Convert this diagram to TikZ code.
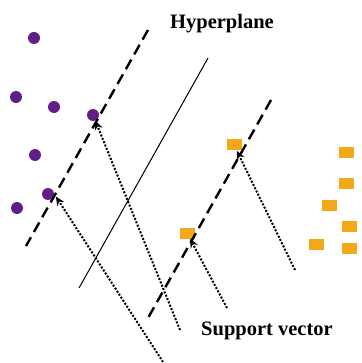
\documentclass[tikz,border=0pt]{standalone}
\usepackage{fontspec}
\setmainfont{Liberation Serif}
\usetikzlibrary{arrows.meta}
\definecolor{dotpurple}{RGB}{96,30,135}
\definecolor{boxorange}{RGB}{242,168,24}
\tikzstyle{classa} = [circle, fill=dotpurple, inner sep=0pt, minimum size=12pt]
\tikzstyle{classb} = [rectangle, fill=boxorange, inner sep=0pt, minimum width=15pt, minimum height=11pt]
\tikzstyle{margin} = [line width=2.4pt, dash pattern=on 11pt off 6pt]
\tikzstyle{arrow} = [line width=2pt, dash pattern=on 2pt off 1.6pt, ->,>={Stealth[length=9pt,width=8pt]}]
\tikzstyle{boldtext} = [font=\bfseries\fontsize{20.5}{24}\selectfont, inner sep=0pt]

\begin{document}
\begin{tikzpicture}[x=1pt, y=-1pt]
	\useasboundingbox (0,0) rectangle (361,363);
	\node (a1) [classa] at (34,38) {};
	\node (a2) [classa] at (16,97) {};
	\node (a3) [classa] at (54,107) {};
	\node (a4) [classa] at (93,115) {};
	\node (a5) [classa] at (35,155) {};
	\node (a6) [classa] at (48,194) {};
	\node (a7) [classa] at (17,208) {};
	
	\node (b1) [classb] at (234,145) {};
	\node (b2) [classb] at (187,233) {};
	\node (b3) [classb] at (346,153) {};
	\node (b4) [classb] at (346,183) {};
	\node (b5) [classb] at (329,205) {};
	\node (b6) [classb] at (349,226) {};
	\node (b7) [classb] at (316,244) {};
	\node (b8) [classb] at (349,248) {};
	
	\node (hyper) [boldtext] at (222,24) {Hyperplane};
	\node (support) [boldtext] at (267,331) {Support vector};
	
	\draw [margin] (148,30) -- (26,246);
	\draw [line width=1pt] (208,58) -- (79,288);
	\draw [margin] (271,100) -- (148,318);
	
	\coordinate (s1) at (163,362);
	\coordinate (s2) at (180,330);
	\coordinate (s3) at (227,308);
	\coordinate (s4) at (295,270);
	
	\draw [arrow, shorten >=3pt] (s1) -- (a6.east);
	\draw [arrow] (s2) -- (a4);
	\draw [arrow] (s3) -- (b2);
	\draw [arrow] (s4) -- (b1);
\end{tikzpicture}
\end{document}
